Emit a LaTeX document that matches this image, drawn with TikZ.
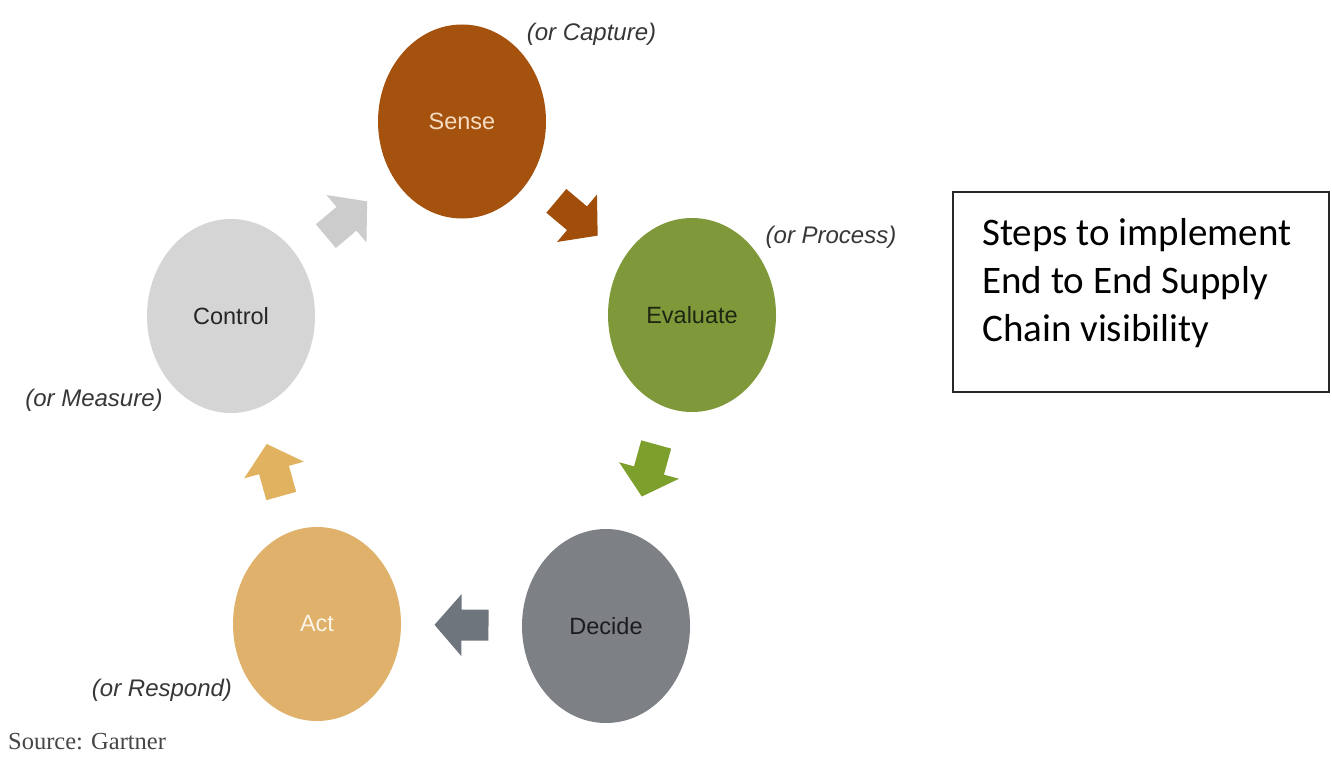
\documentclass[tikz,border=0pt]{standalone}
\usepackage{fontspec}
\setmainfont{Liberation Sans}
\newfontfamily\boxfont{Carlito}
\newfontfamily\srcfont{Liberation Serif}
\usetikzlibrary{shapes.geometric,calc}

\definecolor{senseC}{RGB}{165,82,15}
\definecolor{evalC}{RGB}{127,153,58}
\definecolor{decideC}{RGB}{125,128,133}
\definecolor{actC}{RGB}{223,177,106}
\definecolor{controlC}{RGB}{213,213,213}
\definecolor{senseA}{RGB}{160,78,10}
\definecolor{evalA}{RGB}{125,160,45}
\definecolor{decideA}{RGB}{110,117,125}
\definecolor{actA}{RGB}{225,178,95}
\definecolor{controlA}{RGB}{204,204,204}
\definecolor{noteC}{RGB}{55,55,55}
\definecolor{senseT}{RGB}{246,220,192}
\definecolor{evalT}{RGB}{30,38,18}
\definecolor{decideT}{RGB}{28,28,30}
\definecolor{actT}{RGB}{252,245,232}
\definecolor{controlT}{RGB}{38,38,38}
\definecolor{srcT}{RGB}{70,70,70}
\definecolor{frameC}{RGB}{40,40,40}

\tikzset{
  stage/.style={ellipse, minimum width=168pt, minimum height=194pt, inner sep=0pt,
    font=\fontsize{23.5}{28}\selectfont},
  aside/.style={font=\fontsize{24}{28}\selectfont\itshape, text=noteC, inner sep=0pt},
}

% block arrow halfway between two stages, pointing from the first to the second
\newcommand\flowarrow[3]{%
  \path[fill=#3] let \p1=($(#2)-(#1)$), \n1={atan2(\y1,\x1)} in
    [shift={($(#1)!0.5!(#2)$)}, rotate=\n1]
    (-27,-15.5) -- (0,-15.5) -- (0,-31) -- (27,0) -- (0,31) -- (0,15.5) -- (-27,15.5) -- cycle;}

\begin{document}
\begin{tikzpicture}[x=1pt, y=-1pt]
\useasboundingbox[fill=white] (0,0) rectangle (1332,757);

% the five stages of the cycle
\node[stage, fill=senseC,   text=senseT]   (sense)    at (462,121.5) {Sense};
\node[stage, fill=evalC,    text=evalT]    (evaluate) at (692,315)   {Evaluate};
\node[stage, fill=decideC,  text=decideT]  (decide)   at (606,626)   {Decide};
\node[stage, fill=actC,     text=actT]     (act)      at (317,624)   {Act};
\node[stage, fill=controlC, text=controlT] (control)  at (231,316)   {Control};

% arrows around the cycle
\flowarrow{sense}{evaluate}{senseA}
\flowarrow{evaluate}{decide}{evalA}
\flowarrow{decide}{act}{decideA}
\flowarrow{act}{control}{actA}
\flowarrow{control}{sense}{controlA}

% alternative names
\node[aside] (capture) at (591.5,34)  {(or Capture)};
\node[aside] (process) at (831,237)   {(or Process)};
\node[aside] (measure) at (94,400)    {(or Measure)};
\node[aside] (respond) at (162,690)   {(or Respond)};

% source line
\node[anchor=west, inner sep=0pt, text=srcT,
      font=\srcfont\fontsize{24.5}{28}\selectfont] (source) at (8,742) {Source: Gartner};

% caption box
\node[draw=frameC, line width=1.5pt, minimum width=376pt,
      minimum height=200pt, inner sep=0pt] (frame) at (1141,292) {};
\node[anchor=west, align=left, inner sep=0pt, text=black,
      font=\boxfont\fontsize{39}{48}\selectfont] (caption) at (982,283)
  {Steps to implement\\End to End Supply\\Chain visibility};
\end{tikzpicture}
\end{document}
